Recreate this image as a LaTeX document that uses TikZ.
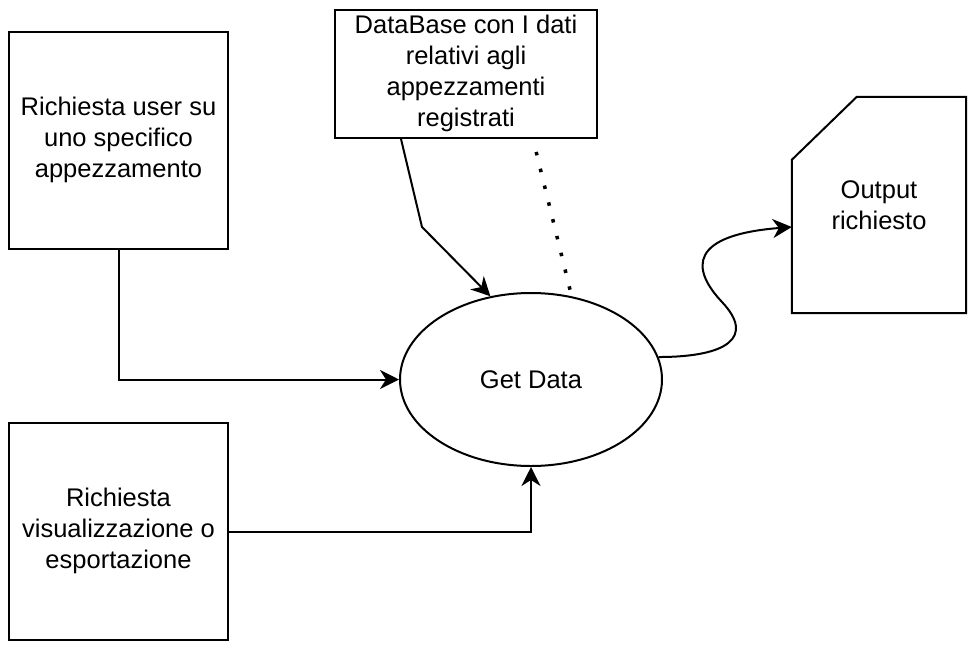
\documentclass[tikz,border=0pt]{standalone}
\usepackage{fontspec}
\setmainfont{Liberation Sans}
\usetikzlibrary{shapes.geometric,arrows.meta}
\begin{document}
\begin{tikzpicture}[x=1pt,y=-1pt,
  every node/.style={font=\fontsize{25.5}{31}\selectfont, align=center, inner sep=0pt},
  box/.style={draw, line width=2pt, rectangle},
  proc/.style={draw, line width=2pt, ellipse},
  conn/.style={line width=2pt, -{Stealth[length=19pt,width=19pt,inset=6pt]}},
  dots/.style={line width=3.5pt, dash pattern=on 3.5pt off 13.8pt, dash phase=4pt}]
\useasboundingbox (0,0) rectangle (978,654);
\node[box, minimum width=219pt, minimum height=217pt] (b1) at (118.5,140.5) {\raisebox{-5pt}{\begin{tabular}{@{}c@{}}Richiesta user su\\uno specifico\\appezzamento\end{tabular}}};
\node[box, minimum width=219pt, minimum height=217pt] (b2) at (118.5,531.5) {\raisebox{-4pt}{\begin{tabular}{@{}c@{}}Richiesta\\visualizzazione o\\esportazione\end{tabular}}};
\node[box, minimum width=262pt, minimum height=128pt] (db) at (466,74) {\raisebox{-3pt}{\begin{tabular}{@{}c@{}}DataBase con I dati\\relativi agli\\appezzamenti\\registrati\end{tabular}}};
\node[proc, minimum width=262pt, minimum height=173pt] (ell) at (531,379.5) {Get Data};
\node[minimum width=174pt, minimum height=216pt] (out) at (879,205) {Output\\richiesto};
\draw[line width=2pt, line join=miter] (out.south west) -- ([yshift=-63pt]out.north west) -- ([xshift=65pt]out.north west) -- (out.north east) -- (out.south east) -- cycle;
\coordinate (bend) at (422,227);
\draw[conn] (b1.south) |- (ell.west);
\draw[conn] (b2.east) -| (ell.south);
\draw[conn] ([xshift=-65pt]db.south) -- (bend) -- (ell.116);
\draw[dots] ([xshift=67pt]db.south) -- (ell.64);
\draw[conn] (ell.10) .. controls (728,357) and (755,337) .. (722,302)
  .. controls (690,268) and (690,235) .. ([yshift=-22pt]out.west);
\end{tikzpicture}
\end{document}
